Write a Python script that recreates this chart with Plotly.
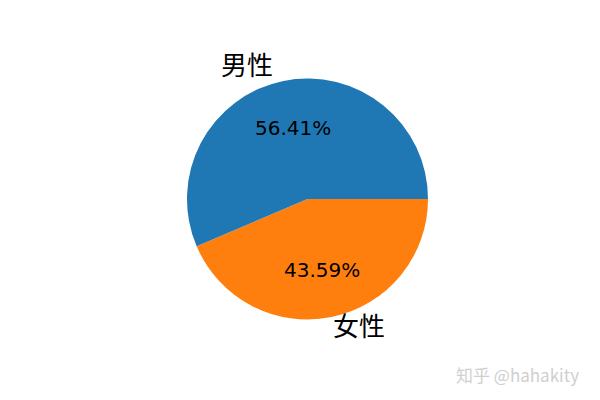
import math
import plotly.graph_objects as go

# 数据
labels = ["男性", "女性"]
values = [56.41, 43.59]
colors = ["#1f77b4", "#ff7f0e"]

W, H = 600, 400
OFF = 8  # 页面 body 默认 8px 边距
# 饼图中心与半径（像素，参考图坐标）
cx_px, cy_px, r_px = 307.5 - OFF, 199 - OFF, 120.5
# 外侧标签的微调（像素），弥补字体差异
label_nudge = [(-6, 6), (-3, 4)]


def to_paper(px, py):
    return px / W, 1 - py / H


fig = go.Figure()
# plotly 顺时针绘制，反转顺序使其与 matplotlib（3 点钟方向起逆时针）一致
fig.add_trace(go.Pie(
    labels=labels[::-1], values=values[::-1], sort=False,
    direction="clockwise", rotation=90,
    marker=dict(colors=colors[::-1], line=dict(width=0)),
    textinfo="none", hoverinfo="label+percent", showlegend=False,
    domain=dict(x=[(cx_px - r_px) / W, (cx_px + r_px) / W],
                y=[1 - (cy_px + r_px) / H, 1 - (cy_px - r_px) / H]),
))

# 标签：外侧 1.1 倍半径，百分比 0.6 倍半径（matplotlib 默认）
total = sum(values)
start = 0.0
for lab, v, (dx, dy) in zip(labels, values, label_nudge):
    frac = v / total
    mid = math.radians(start + frac * 360 / 2)
    start += frac * 360
    c, s = math.cos(mid), math.sin(mid)
    x, y = to_paper(cx_px + 1.1 * r_px * c, cy_px - 1.1 * r_px * s)
    fig.add_annotation(
        x=x, y=y, xref="paper", yref="paper", text=lab, showarrow=False,
        xanchor="right" if c < 0 else "left", yanchor="middle",
        xshift=dx, yshift=dy,
        font=dict(family="Noto Sans CJK SC", size=26, color="black"),
    )
    x, y = to_paper(cx_px + 0.6 * r_px * c, cy_px - 0.6 * r_px * s)
    fig.add_annotation(
        x=x, y=y, xref="paper", yref="paper", text=f"{frac * 100:.2f}%",
        showarrow=False, xanchor="center", yanchor="middle",
        font=dict(family="DejaVu Sans", size=20, color="black"),
    )

# 水印
x, y = to_paper(581 - OFF, 374 - OFF)
fig.add_annotation(
    x=x, y=y, xref="paper", yref="paper",
    text="知乎 @hahakity", showarrow=False, xanchor="right", yanchor="middle",
    font=dict(family="Noto Sans CJK SC", size=17, color="#cfcfcf"),
)

fig.update_layout(
    width=W, height=H, margin=dict(l=0, r=0, t=0, b=0),
    paper_bgcolor="white", plot_bgcolor="white",
)
fig.write_html("out.html")
